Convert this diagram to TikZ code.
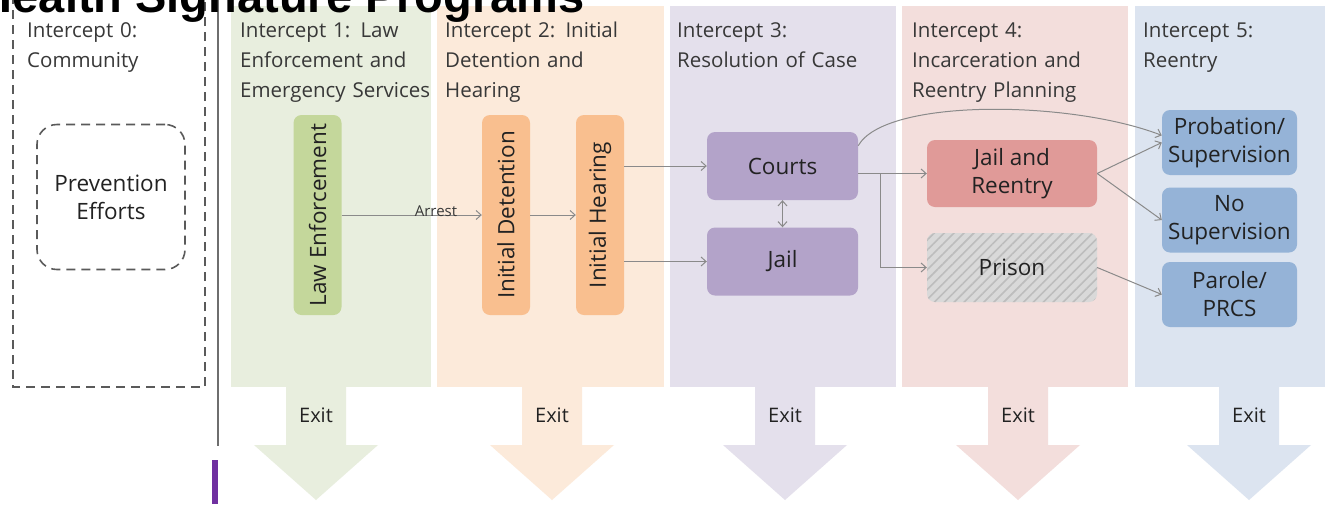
\documentclass[tikz,border=0pt]{standalone}
\usepackage{fontspec}
\setmainfont{Open Sans}
\newfontfamily\titlefont{Liberation Sans}
\usetikzlibrary{arrows.meta,patterns.meta,calc}
\definecolor{hdrtext}{HTML}{383838}
\definecolor{boxtext}{HTML}{222222}
\definecolor{arrgray}{HTML}{8A8A8A}
\definecolor{gpanel}{HTML}{E8EEDE}
\definecolor{opanel}{HTML}{FCEADA}
\definecolor{ppanel}{HTML}{E4E0EC}
\definecolor{rpanel}{HTML}{F3DEDC}
\definecolor{bpanel}{HTML}{DCE4F0}
\definecolor{gnode}{HTML}{C4D79B}
\definecolor{onode}{HTML}{F9BF8F}
\definecolor{pnode}{HTML}{B3A3C9}
\definecolor{rnode}{HTML}{E09A98}
\definecolor{bnode}{HTML}{95B3D7}
\definecolor{prisonfill}{HTML}{D9D9D9}
\definecolor{hatch}{HTML}{BDBDBD}
\definecolor{dashgray}{HTML}{5A5A5A}
\definecolor{sepgray}{HTML}{6E6E6E}
\definecolor{purplebar}{HTML}{7030A0}
\tikzset{
  hdr/.style={anchor=base west, align=left, text width=215pt, inner sep=0pt,
    font=\fontsize{20.5}{30}\selectfont, text=hdrtext},
  box/.style={rounded corners=8pt, inner sep=0pt, align=center,
    font=\fontsize{22.5}{28}\selectfont, text=boxtext},
  vbox/.style={box, rotate=90, minimum width=200pt, minimum height=48pt},
  hbox/.style={box, minimum width=151pt, minimum height=68pt},
  bbox/.style={box, minimum width=135pt, minimum height=65pt},
  arr/.style={draw=arrgray, line width=1pt, -{Straight Barb[length=5pt,width=9pt]}},
  dbl/.style={draw=arrgray, line width=1pt, {Straight Barb[length=5pt,width=9pt]}-{Straight Barb[length=5pt,width=9pt]}},
  exitlabel/.style={font=\fontsize{20}{24}\selectfont, text=boxtext, inner sep=0pt},
  dashbox/.style={draw=dashgray, line width=1.6pt, dash pattern=on 9pt off 6pt}
}
\newcommand{\exitarrow}[2]{%
  \fill[#2] (#1-30,387) -- (#1+30,387) -- (#1+30,445) -- (#1+62,445)
    -- (#1,500) -- (#1-62,445) -- (#1-30,445) -- cycle;}
\begin{document}
\begin{tikzpicture}[x=1pt,y=-1pt]
\useasboundingbox (0,0) rectangle (1329,504);
\clip (0,0) rectangle (1329,504);
\fill[white] (0,0) rectangle (1329,504);
% panels
\fill[gpanel] (231,6) rectangle (431,387);
\fill[opanel] (437,6) rectangle (664,387);
\fill[ppanel] (670,6) rectangle (896,387);
\fill[rpanel] (902,6) rectangle (1128,387);
\fill[bpanel] (1135,6) rectangle (1325,387);
% exit arrows
\exitarrow{316}{gpanel}
\exitarrow{552}{opanel}
\exitarrow{785}{ppanel}
\exitarrow{1018}{rpanel}
\exitarrow{1249}{bpanel}
\node[exitlabel] (ex1) at (316,415) {Exit};
\node[exitlabel] (ex2) at (552,415) {Exit};
\node[exitlabel] (ex3) at (785,415) {Exit};
\node[exitlabel] (ex4) at (1018,415) {Exit};
\node[exitlabel] (ex5) at (1249,415) {Exit};
% intercept 0
\draw[dashbox] (13,-20) rectangle (205,387);
\draw[sepgray, line width=2pt] (218,0) -- (218,446);
\fill[purplebar] (212,460) rectangle (218,504);
\node[box, draw=dashgray, fill=white, line width=1.6pt, dash pattern=on 9pt off 6pt,
  rounded corners=20pt, minimum width=148pt, minimum height=145pt] (prev) at (111,197)
  {Prevention\\Efforts};
% headers
\node[hdr] (h0) at (27,37) {Intercept 0:\\Community};
\node[hdr] (h1) at (240,37) {Intercept 1: Law\\Enforcement and\\Emergency Services};
\node[hdr] (h2) at (445,37) {Intercept 2: Initial\\Detention and\\Hearing};
\node[hdr] (h3) at (677,37) {Intercept 3:\\Resolution of Case};
\node[hdr] (h4) at (912,37) {Intercept 4:\\Incarceration and\\Reentry Planning};
\node[hdr] (h5) at (1143,37) {Intercept 5:\\Reentry};
% process nodes
\node[vbox, fill=gnode] (law) at (317.5,215) {Law Enforcement};
\node[vbox, fill=onode] (det) at (506,215) {Initial Detention};
\node[vbox, fill=onode] (hear) at (600,215) {Initial Hearing};
\node[hbox, fill=pnode] (courts) at (782.5,166) {Courts};
\node[hbox, fill=pnode] (jail) at (782.5,261.5) {Jail};
\node[box, fill=rnode, minimum width=170pt, minimum height=67pt] (jr) at (1012,173.5) {Jail and\\Reentry};
\node[box, fill=prisonfill, minimum width=170pt, minimum height=69pt,
  postaction={pattern={Lines[angle=45,distance=7pt,line width=1.6pt]}, pattern color=hatch}] (prison) at (1012,267.5) {};
\node[box] (prisonlbl) at (prison.center) {Prison};
\node[bbox, fill=bnode] (prob) at (1229.5,142.5) {Probation/\\Supervision};
\node[bbox, fill=bnode] (nosup) at (1229.5,220) {No\\Supervision};
\node[bbox, fill=bnode] (parole) at (1229.5,294.5) {Parole/\\PRCS};
% connectors
\draw[arr] (law.south) -- (det.north);
\node[font=\fontsize{15}{18}\selectfont, text=hdrtext, inner sep=0pt] (arrest) at (436,211) {Arrest};
\draw[arr] (det.south) -- (hear.north);
\draw[arr] (hear.south |- courts.west) -- (courts.west);
\draw[arr] (hear.south |- jail.west) -- (jail.west);
\draw[dbl] (courts.south) -- (jail.north);
\draw[arr] (courts.east |- jr.west) -- (jr.west);
\coordinate (br) at (880,173.5);
\draw[arr] (br) |- (prison.west);
\draw[arr] (courts.15) .. controls (885,98) and (1070,100) .. (prob.174);
\draw[arr] (jr.east) -- (prob.west);
\draw[arr] (jr.east) -- (nosup.west);
\draw[arr] (prison.east) -- (parole.west);
% title
\node[anchor=base east, inner sep=0pt, font=\titlefont\bfseries\fontsize{47}{56}\selectfont] (title) at (585,12) {Health Signature Programs};
\end{tikzpicture}
\end{document}
